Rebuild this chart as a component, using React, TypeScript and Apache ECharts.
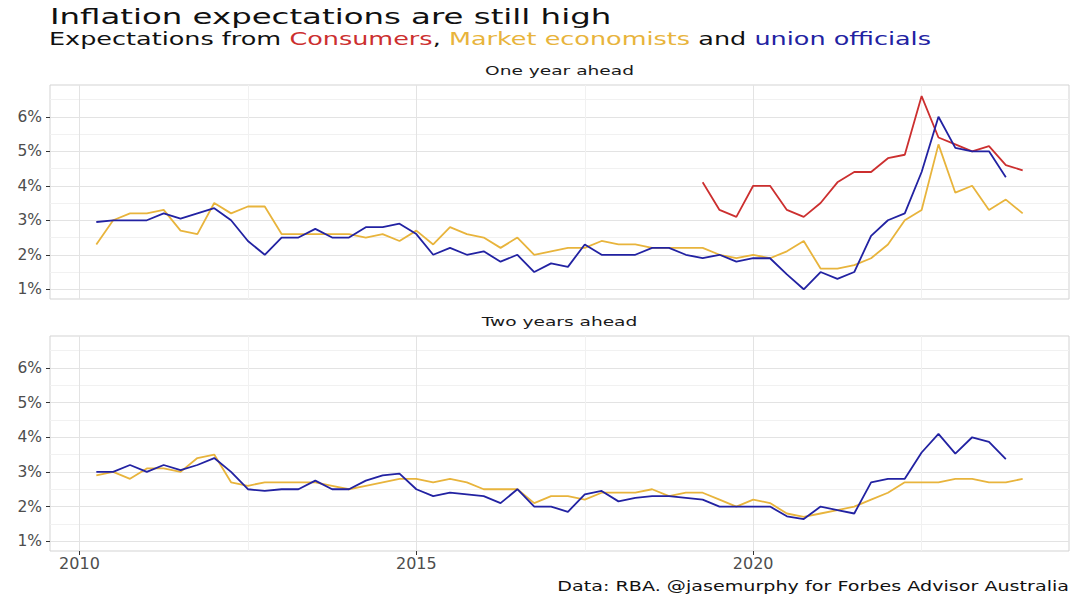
import React, { useEffect, useRef } from "react";
import * as echarts from "echarts";

// Quarterly observation dates (decimal years), first observation 2010 Q2
const FIRST_QUARTER = 2010.25;
const QUARTER_COUNT = 56;
const QUARTERS: number[] = Array.from({ length: QUARTER_COUNT }, (_, i) => FIRST_QUARTER + i * 0.25);

// One year ahead
const consumersOneYear = [4.1, 3.3, 3.1, 4.0, 4.0, 3.3, 3.1, 3.5, 4.1, 4.4, 4.4, 4.8, 4.9, 6.6, 5.4, 5.2, 5.0, 5.15, 4.6, 4.45];
const consumersOneYearStart = 36; // 2019 Q2
const marketOneYear = [
  2.3, 3.0, 3.2,
  3.2, 3.3, 2.7, 2.6,
  3.5, 3.2, 3.4, 3.4,
  2.6, 2.6, 2.6, 2.6,
  2.6, 2.5, 2.6, 2.4,
  2.7, 2.3, 2.8, 2.6,
  2.5, 2.2, 2.5, 2.0,
  2.1, 2.2, 2.2, 2.4,
  2.3, 2.3, 2.2, 2.2,
  2.2, 2.2, 2.0, 1.9,
  2.0, 1.9, 2.1, 2.4,
  1.6, 1.6, 1.7, 1.9,
  2.3, 3.0, 3.3, 5.2,
  3.8, 4.0, 3.3, 3.6,
  3.2,
];
const unionOneYear = [
  2.95, 3.0, 3.0,
  3.0, 3.2, 3.05, 3.2,
  3.35, 3.0, 2.4, 2.0,
  2.5, 2.5, 2.75, 2.5,
  2.5, 2.8, 2.8, 2.9,
  2.6, 2.0, 2.2, 2.0,
  2.1, 1.8, 2.0, 1.5,
  1.75, 1.65, 2.3, 2.0,
  2.0, 2.0, 2.2, 2.2,
  2.0, 1.9, 2.0, 1.8,
  1.9, 1.9, 1.43, 1.0,
  1.5, 1.3, 1.5, 2.55,
  3.0, 3.2, 4.4, 6.0,
  5.1, 5.0, 5.0, 4.25,
];

// Two years ahead
const marketTwoYear = [
  2.9, 3.0, 2.8,
  3.1, 3.1, 3.0, 3.4,
  3.5, 2.7, 2.6, 2.7,
  2.7, 2.7, 2.7, 2.6,
  2.5, 2.6, 2.7, 2.8,
  2.8, 2.7, 2.8, 2.7,
  2.5, 2.5, 2.5, 2.1,
  2.3, 2.3, 2.2, 2.4,
  2.4, 2.4, 2.5, 2.3,
  2.4, 2.4, 2.2, 2.0,
  2.2, 2.1, 1.8, 1.7,
  1.8, 1.9, 2.0, 2.2,
  2.4, 2.7, 2.7, 2.7,
  2.8, 2.8, 2.7, 2.7,
  2.8,
];
const unionTwoYear = [
  3.0, 3.0, 3.2,
  3.0, 3.2, 3.05, 3.2,
  3.4, 3.0, 2.5, 2.45,
  2.5, 2.5, 2.75, 2.5,
  2.5, 2.75, 2.9, 2.95,
  2.5, 2.3, 2.4, 2.35,
  2.3, 2.1, 2.5, 2.0,
  2.0, 1.85, 2.35, 2.45,
  2.15, 2.25, 2.3, 2.3,
  2.25, 2.2, 2.0, 2.0,
  2.0, 2.0, 1.72, 1.64,
  2.0, 1.9, 1.8, 2.7,
  2.8, 2.8, 3.56, 4.1,
  3.53, 4.0, 3.87, 3.37,
];

// Axis ticks
const X_MAJOR = [2010, 2015, 2020];
const X_MINOR = [2012.5, 2017.5, 2022.5];
const Y_MAJOR = [1, 2, 3, 4, 5, 6];
const Y_MINOR = [1.5, 2.5, 3.5, 4.5, 5.5, 6.5];
const X_MIN = 2009.5625;
const X_MAX = 2024.6875;
const Y_MIN = 0.718;
const Y_MAX = 6.922;

const PANEL_TITLES = ["One year ahead", "Two years ahead"];
const TITLE = "Inflation expectations are still high";
const CAPTION = "Data: RBA. @jasemurphy for Forbes Advisor Australia";

const RED = "#cc2f2f";
const YELLOW = "#e8b43c";
const BLUE = "#2222a2";
const FONT = "DejaVu Sans";

const toPairs = (values: number[], start = 0) => values.map((v, i) => [QUARTERS[start + i], v]);

const majorLine = { show: true, lineStyle: { color: "#e3e3e3", width: 1 } };
const minorLine = { show: true, lineStyle: { color: "#f1f1f1", width: 1 } };

function xAxesFor(gridIndex: number, showLabels: boolean) {
  return [
    {
      type: "value", gridIndex, min: X_MIN, max: X_MAX, position: "bottom",
      axisLine: { show: false, onZero: false },
      axisTick: { show: showLabels, customValues: X_MAJOR, length: 4, lineStyle: { color: "#333", width: 1 } },
      axisLabel: {
        show: showLabels, customValues: X_MAJOR, margin: 4,
        formatter: (v: number) => String(v), color: "#4d4d4d", fontSize: 16, fontFamily: FONT,
      },
      splitLine: majorLine,
    },
    {
      type: "value", gridIndex, min: X_MIN, max: X_MAX, position: "top",
      axisLine: { show: false, onZero: false },
      axisTick: { show: false, customValues: X_MINOR },
      axisLabel: { show: false, customValues: X_MINOR },
      splitLine: minorLine,
    },
  ];
}

function yAxesFor(gridIndex: number) {
  return [
    {
      type: "value", gridIndex, min: Y_MIN, max: Y_MAX, position: "left",
      axisLine: { show: false, onZero: false },
      axisTick: { show: true, customValues: Y_MAJOR, length: 4, lineStyle: { color: "#333", width: 1 } },
      axisLabel: {
        show: true, customValues: Y_MAJOR, margin: 8,
        formatter: (v: number) => `${v}%`, color: "#4d4d4d", fontSize: 15.5, fontFamily: FONT,
      },
      splitLine: majorLine,
    },
    {
      type: "value", gridIndex, min: Y_MIN, max: Y_MAX, position: "right",
      axisLine: { show: false, onZero: false },
      axisTick: { show: false, customValues: Y_MINOR },
      axisLabel: { show: false, customValues: Y_MINOR },
      splitLine: minorLine,
    },
  ];
}

function line(name: string, data: number[][], color: string, axisBase: number) {
  return {
    name, type: "line", data, xAxisIndex: axisBase, yAxisIndex: axisBase,
    showSymbol: false, symbol: "none", silent: true,
    lineStyle: { color, width: 1.8 }, itemStyle: { color }, z: 3,
  };
}

const PANEL_LEFT = 50;
const PANEL_WIDTH = 1019;
const PANELS = [
  { top: 85, height: 214 },
  { top: 336, height: 215 },
];

export default function App() {
  const ref = useRef<HTMLDivElement>(null);
  useEffect(() => {
    if (!ref.current) return;
    const chart = echarts.init(ref.current, undefined, { renderer: "svg" });
    const centerX = PANEL_LEFT + PANEL_WIDTH / 2;
    const option = {
      animation: false,
      backgroundColor: "#ffffff",
      grid: PANELS.map((p) => ({
        left: PANEL_LEFT, top: p.top, width: PANEL_WIDTH, height: p.height,
        show: true, borderColor: "#d3d3d3", borderWidth: 1, backgroundColor: "#ffffff",
      })),
      xAxis: [...xAxesFor(0, false), ...xAxesFor(1, true)],
      yAxis: [...yAxesFor(0), ...yAxesFor(1)],
      series: [
        line("Consumers", toPairs(consumersOneYear, consumersOneYearStart), RED, 0),
        line("Market economists", toPairs(marketOneYear), YELLOW, 0),
        line("Union officials", toPairs(unionOneYear), BLUE, 0),
        line("Market economists (2y)", toPairs(marketTwoYear), YELLOW, 2),
        line("Union officials (2y)", toPairs(unionTwoYear), BLUE, 2),
      ],
      graphic: [
        {
          type: "text", x: 50, y: 16, scaleX: 1.5, silent: true,
          style: {
            text: TITLE, fontSize: 21.6, fontFamily: FONT, fill: "#111",
            align: "left", verticalAlign: "middle", textAlign: "left", textVerticalAlign: "middle",
          },
        },
        {
          type: "text", x: 49, y: 39.5, scaleX: 1.5, silent: true,
          style: {
            text: "Expectations from {r|Consumers}, {y|Market economists} and {b|union officials}",
            fontSize: 17, fontFamily: FONT, fill: "#111",
            align: "left", verticalAlign: "middle", textAlign: "left", textVerticalAlign: "middle",
            rich: {
              r: { fill: RED, color: RED, fontSize: 17, fontFamily: FONT },
              y: { fill: YELLOW, color: YELLOW, fontSize: 17, fontFamily: FONT },
              b: { fill: BLUE, color: BLUE, fontSize: 17, fontFamily: FONT },
            },
          },
        },
        ...PANEL_TITLES.map((t, i) => ({
          type: "text", x: centerX, y: PANELS[i].top - 14, scaleX: 1.43, silent: true,
          style: {
            text: t, fontSize: 13, fontFamily: FONT, fill: "#1a1a1a",
            align: "center", verticalAlign: "middle", textAlign: "center", textVerticalAlign: "middle",
          },
        })),
        {
          type: "text", x: 1069, y: 586, scaleX: 1.32, silent: true,
          style: {
            text: CAPTION, fontSize: 14.5, fontFamily: FONT, fill: "#111",
            align: "right", verticalAlign: "middle", textAlign: "right", textVerticalAlign: "middle",
          },
        },
      ],
    };
    chart.setOption(option as any);
    return () => chart.dispose();
  }, []);
  return (
    <div
      ref={ref}
      style={{ position: "absolute", left: 0, top: 0, width: 1080, height: 608, background: "#fff" }}
    />
  );
}
